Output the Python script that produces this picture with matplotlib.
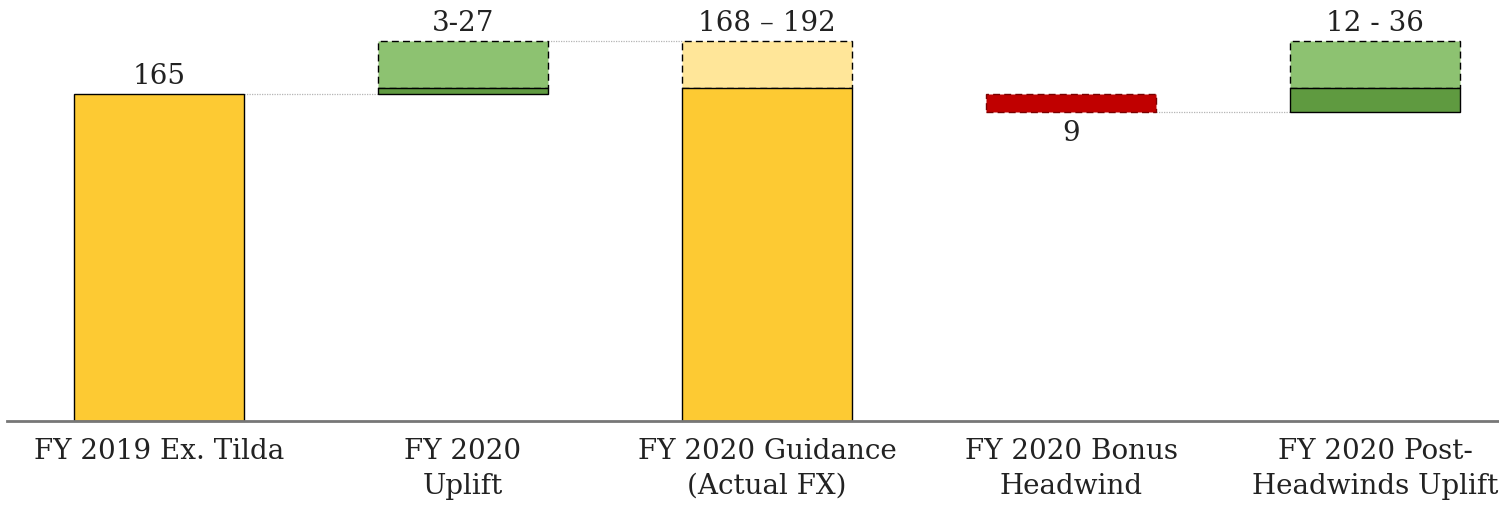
import matplotlib.pyplot as plt
import numpy as np

categories = ["FY 2019 Ex. Tilda", "FY 2020\nUplift", "FY 2020 Guidance\n(Actual FX)",
              "FY 2020 Bonus\nHeadwind", "FY 2020 Post-\nHeadwinds Uplift"]
base_fy2019 = 165
uplift_range = [3, 27]
guidance_range = [168, 192]
bonus_headwind = 9
post_headwind_range = [12, 36]

YELLOW = "#fdca33"
YELLOW_LIGHT = "#ffe699"
GREEN_DARK = "#5f9a40"
GREEN_LIGHT = "#8dc271"
RED = "#c00000"
WIDTH = 0.556

plt.rcParams["font.family"] = ["DejaVu Serif"]

fig = plt.figure(figsize=(14.99, 5.07), dpi=100)
# axes spans a little past the right edge of the figure
ax = fig.add_axes([7 / 1499, 86 / 507, 1520 / 1499, 420 / 507])
x = np.arange(len(categories))

solid = dict(width=WIDTH, edgecolor="black", linewidth=1.0)
dashed = dict(width=WIDTH, edgecolor="black", linewidth=1.0, linestyle=(0, (5, 3)))

# FY 2019 base
ax.bar(x[0], base_fy2019, color=YELLOW, **solid)

# uplift: low end solid, range up to high end dashed
ax.bar(x[1], uplift_range[1] - uplift_range[0], bottom=base_fy2019 + uplift_range[0],
       color=GREEN_LIGHT, **dashed)
ax.bar(x[1], uplift_range[0], bottom=base_fy2019, color=GREEN_DARK, **solid)

# guidance
ax.bar(x[2], guidance_range[1] - guidance_range[0], bottom=guidance_range[0],
       color=YELLOW_LIGHT, **dashed)
ax.bar(x[2], guidance_range[0], color=YELLOW, **solid)

# bonus headwind
after_headwind = base_fy2019 - bonus_headwind
ax.bar(x[3], bonus_headwind, bottom=after_headwind, color=RED, width=WIDTH,
       edgecolor="#7a0000", linewidth=1.0, linestyle=(0, (5, 3)))

# post-headwind uplift
ax.bar(x[4], post_headwind_range[1] - post_headwind_range[0],
       bottom=after_headwind + post_headwind_range[0], color=GREEN_LIGHT, **dashed)
ax.bar(x[4], post_headwind_range[0], bottom=after_headwind, color=GREEN_DARK, **solid)

# dotted connectors between bars
conn = dict(color="#b5b5b5", linewidth=0.9, linestyle=(0, (1, 1)), zorder=0)
half = WIDTH / 2
ax.plot([x[0] + half, x[1] - half], [base_fy2019] * 2, **conn)
ax.plot([x[1] + half, x[2] - half], [base_fy2019 + uplift_range[1]] * 2, **conn)
ax.plot([x[3] + half, x[4] - half], [after_headwind] * 2, **conn)

# value labels
lbl = dict(ha="center", fontsize=20, color="#222222")
ax.text(x[0], base_fy2019 + 2, f"{base_fy2019}", va="bottom", **lbl)
ax.text(x[1], base_fy2019 + uplift_range[1] + 2,
        f"{uplift_range[0]}-{uplift_range[1]}", va="bottom", **lbl)
ax.text(x[2], guidance_range[1] + 2,
        f"{guidance_range[0]} \u2013 {guidance_range[1]}", va="bottom", **lbl)
ax.text(x[3], after_headwind - 4, f"{bonus_headwind}", va="top", **lbl)
ax.text(x[4], after_headwind + post_headwind_range[1] + 2,
        f"{post_headwind_range[0]} - {post_headwind_range[1]}", va="bottom", **lbl)

ax.set_xlim(-0.5, 4.5)
ax.set_ylim(0, 212)
ax.set_xticks(x)
ax.set_xticklabels(categories, fontsize=20, color="#222222", linespacing=1.38)
ax.tick_params(axis="x", length=0, pad=12)
ax.set_yticks([])
for side in ["top", "left", "right"]:
    ax.spines[side].set_visible(False)
ax.spines["bottom"].set_color("#777777")
ax.spines["bottom"].set_linewidth(2)

fig.savefig("out.png", dpi=100)
plt.close(fig)
